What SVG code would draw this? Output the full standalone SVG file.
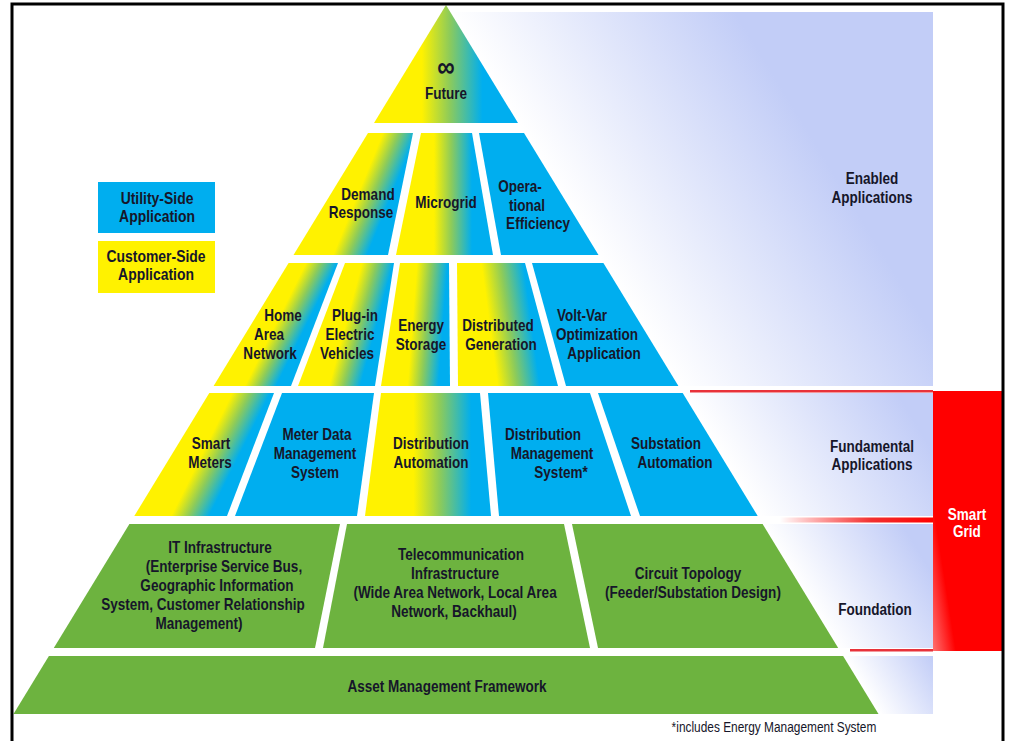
<svg xmlns="http://www.w3.org/2000/svg" xmlns:xlink="http://www.w3.org/1999/xlink" width="1011" height="741" viewBox="0 0 1011 741">
<style>
.t{font-family:'Liberation Sans',Arial,sans-serif;font-weight:bold;font-size:16.5px;fill:#16162a;text-anchor:middle;transform-box:fill-box;transform-origin:center;transform:scaleX(0.82)}
.w{fill:#ffffff}
.fn{font-family:'Liberation Sans',Arial,sans-serif;font-size:14.5px;fill:#16162a;text-anchor:middle;transform-box:fill-box;transform-origin:center;transform:scaleX(0.82)}
.blue{fill:#00AEEF}
.green{fill:#6DB33F}
.yel{fill:#FFF200}
</style>
<defs>
<linearGradient id="yb">
<stop offset="0" stop-color="#FFF200"/>
<stop offset="0.38" stop-color="#FFF200"/>
<stop offset="0.6" stop-color="#8DCB5A"/>
<stop offset="0.86" stop-color="#00AEEF"/>
<stop offset="1" stop-color="#00AEEF"/>
</linearGradient>
<linearGradient id="lav">
<stop offset="0" stop-color="#FFFFFF"/>
<stop offset="1" stop-color="#C2CDF7"/>
</linearGradient>
<linearGradient id="gFuture" href="#yb" xlink:href="#yb" gradientUnits="userSpaceOnUse" x1="374" y1="0" x2="500" y2="0"/>
<linearGradient id="gDemand" href="#yb" xlink:href="#yb" gradientUnits="userSpaceOnUse" x1="331" y1="194" x2="402" y2="194" gradientTransform="translate(0,194) skewX(-22.2) translate(0,-194)"/>
<linearGradient id="gMicro" href="#yb" xlink:href="#yb" gradientUnits="userSpaceOnUse" x1="404" y1="0" x2="483" y2="0"/>
<linearGradient id="gHome" href="#yb" xlink:href="#yb" gradientUnits="userSpaceOnUse" x1="251" y1="324" x2="316" y2="324" gradientTransform="translate(0,324) skewX(-26.4) translate(0,-324)"/>
<linearGradient id="gPlug" href="#yb" xlink:href="#yb" gradientUnits="userSpaceOnUse" x1="321" y1="324" x2="386" y2="324" gradientTransform="translate(0,324) skewX(-15) translate(0,-324)"/>
<linearGradient id="gEnergy" href="#yb" xlink:href="#yb" gradientUnits="userSpaceOnUse" x1="388" y1="324" x2="452" y2="324" gradientTransform="translate(0,324) skewX(-4.4) translate(0,-324)"/>
<linearGradient id="gDist" href="#yb" xlink:href="#yb" gradientUnits="userSpaceOnUse" x1="456" y1="324" x2="544" y2="324" gradientTransform="translate(0,324) skewX(7.6) translate(0,-324)"/>
<linearGradient id="gSmart" href="#yb" xlink:href="#yb" gradientUnits="userSpaceOnUse" x1="172" y1="454" x2="251" y2="454" gradientTransform="translate(0,454) skewX(-26.4) translate(0,-454)"/>
<linearGradient id="gDA" href="#yb" xlink:href="#yb" gradientUnits="userSpaceOnUse" x1="368" y1="0" x2="488" y2="0"/>
<linearGradient id="bandTop" href="#lav" xlink:href="#lav" gradientUnits="userSpaceOnUse" x1="565" y1="200" x2="850" y2="200" gradientTransform="translate(0,200) skewX(31.4) translate(0,-200)"/>
<linearGradient id="bandFund" href="#lav" xlink:href="#lav" gradientUnits="userSpaceOnUse" x1="722" y1="455" x2="935" y2="455" gradientTransform="translate(0,455) skewX(31.4) translate(0,-455)"/>
<linearGradient id="bandFound" href="#lav" xlink:href="#lav" gradientUnits="userSpaceOnUse" x1="800" y1="586" x2="940" y2="586" gradientTransform="translate(0,586) skewX(31.4) translate(0,-586)"/>
<linearGradient id="bandBot" href="#lav" xlink:href="#lav" gradientUnits="userSpaceOnUse" x1="862" y1="685" x2="950" y2="685" gradientTransform="translate(0,685) skewX(31.4) translate(0,-685)"/>
<linearGradient id="redFade" x1="0" y1="0" x2="1" y2="0">
<stop offset="0" stop-color="#FF0000" stop-opacity="0"/>
<stop offset="0.6" stop-color="#F01818" stop-opacity="0.9"/>
<stop offset="1" stop-color="#FF0000"/>
</linearGradient>
<linearGradient id="redBar" x1="0" y1="1" x2="0.7" y2="0.6">
<stop offset="0" stop-color="#FF7070"/>
<stop offset="0.35" stop-color="#FF0000"/>
<stop offset="1" stop-color="#FF0000"/>
</linearGradient>
</defs>
<rect x="0" y="0" width="1011" height="741" fill="#ffffff"/>

<g id="panel">
<rect x="446" y="12" width="487" height="374" fill="url(#bandTop)"/>
<rect x="680" y="393" width="253" height="123" fill="url(#bandFund)"/>
<rect x="760" y="524" width="173" height="124" fill="url(#bandFound)"/>
<rect x="840" y="656" width="93" height="58" fill="url(#bandBot)"/>
</g>

<g id="separators">
<rect x="690" y="390" width="243" height="2.5" fill="#E8323A"/>
<rect x="780" y="517.5" width="153" height="5" fill="url(#redFade)"/>
<rect x="850" y="649" width="83" height="2.5" fill="#E8323A"/>
</g>

<g id="smart-grid">
<rect x="933" y="391" width="71" height="260" fill="url(#redBar)"/>
<text class="t w" x="967" y="520">Smart</text>
<text class="t w" x="967" y="537">Grid</text>
</g>

<g id="label-enabled">
<text class="t" x="872" y="184">Enabled</text>
<text class="t" x="872" y="203">Applications</text>
</g>
<g id="label-fundamental">
<text class="t" x="872" y="452">Fundamental</text>
<text class="t" x="872" y="470">Applications</text>
</g>
<g id="label-foundation">
<text class="t" x="875" y="615">Foundation</text>
</g>

<g id="legend-utility">
<rect x="98" y="182" width="117" height="51" class="blue"/>
<text class="t" x="157" y="204" style="font-size:17px">Utility-Side</text>
<text class="t" x="157" y="222" style="font-size:17px">Application</text>
</g>
<g id="legend-customer">
<rect x="98" y="241" width="117" height="52" class="yel"/>
<text class="t" x="156" y="262" style="font-size:17px">Customer-Side</text>
<text class="t" x="156" y="280" style="font-size:17px">Application</text>
</g>

<g id="future">
<polygon points="446,5 518,123 374,123" fill="url(#gFuture)"/>
<text class="t" x="446" y="77" style="font-size:30px">∞</text>
<text class="t" x="446" y="99">Future</text>
</g>

<g id="demand-response">
<polygon points="368,133 413,133 388,255 293.5,255" fill="url(#gDemand)"/>
<text class="t" x="368" y="200">Demand</text>
<text class="t" x="361" y="218">Response</text>
</g>
<g id="microgrid">
<polygon points="421,133 472,133 493,255 396,255" fill="url(#gMicro)"/>
<text class="t" x="446" y="208">Microgrid</text>
</g>
<g id="operational-efficiency">
<polygon points="479,133 524,133 598.5,255 501,255" class="blue"/>
<text class="t" x="520" y="192">Opera-</text>
<text class="t" x="527" y="211">tional</text>
<text class="t" x="538" y="229">Efficiency</text>
</g>

<g id="home-area-network">
<polygon points="288.6,263 338,263 291,386 213.6,386" fill="url(#gHome)"/>
<text class="t" x="283" y="321">Home</text>
<text class="t" x="269" y="340">Area</text>
<text class="t" x="270" y="359">Network</text>
</g>
<g id="plug-in-electric-vehicles">
<polygon points="345,263 394,263 375,386 298,386" fill="url(#gPlug)"/>
<text class="t" x="355" y="321">Plug-in</text>
<text class="t" x="350" y="340">Electric</text>
<text class="t" x="347" y="359">Vehicles</text>
</g>
<g id="energy-storage">
<polygon points="400,263 449,263 450,386 381,386" fill="url(#gEnergy)"/>
<text class="t" x="421" y="331">Energy</text>
<text class="t" x="421" y="350">Storage</text>
</g>
<g id="distributed-generation">
<polygon points="457,263 525,263 558,386 458,386" fill="url(#gDist)"/>
<text class="t" x="498" y="331">Distributed</text>
<text class="t" x="501" y="350">Generation</text>
</g>
<g id="volt-var">
<polygon points="532,263 603.4,263 678.4,386 566,386" class="blue"/>
<text class="t" x="582" y="321">Volt-Var</text>
<text class="t" x="597" y="340">Optimization</text>
<text class="t" x="604" y="359">Application</text>
</g>

<g id="smart-meters">
<polygon points="209.3,393 274,393 227,516 134.3,516" fill="url(#gSmart)"/>
<text class="t" x="211" y="449">Smart</text>
<text class="t" x="210" y="468">Meters</text>
</g>
<g id="meter-data-management">
<polygon points="282,393 374,393 357,516 235,516" class="blue"/>
<text class="t" x="317" y="440">Meter Data</text>
<text class="t" x="315" y="459">Management</text>
<text class="t" x="315" y="478">System</text>
</g>
<g id="distribution-automation">
<polygon points="381,393 480,393 491,516 365,516" fill="url(#gDA)"/>
<text class="t" x="431" y="449">Distribution</text>
<text class="t" x="431" y="468">Automation</text>
</g>
<g id="distribution-management">
<polygon points="488,393 590,393 631,516 499,516" class="blue"/>
<text class="t" x="543" y="440">Distribution</text>
<text class="t" x="552" y="459">Management</text>
<text class="t" x="561" y="478">System*</text>
</g>
<g id="substation-automation">
<polygon points="598,393 682.7,393 757.7,516 640,516" class="blue"/>
<text class="t" x="666" y="449">Substation</text>
<text class="t" x="675" y="468">Automation</text>
</g>

<g id="it-infrastructure">
<polygon points="129.4,524 340,524 315,648 53.8,648" class="green"/>
<text class="t" x="220" y="553">IT Infrastructure</text>
<text class="t" x="224" y="572">(Enterprise Service Bus,</text>
<text class="t" x="217" y="591">Geographic Information</text>
<text class="t" x="203" y="610">System, Customer Relationship</text>
<text class="t" x="199" y="629">Management)</text>
</g>
<g id="telecommunication-infrastructure">
<polygon points="347,524 564,524 590,648 323,648" class="green"/>
<text class="t" x="461" y="560">Telecommunication</text>
<text class="t" x="455" y="579">Infrastructure</text>
<text class="t" x="455" y="598">(Wide Area Network, Local Area</text>
<text class="t" x="454" y="617">Network, Backhaul)</text>
</g>
<g id="circuit-topology">
<polygon points="572,524 762.6,524 838.2,648 598,648" class="green"/>
<text class="t" x="688" y="579">Circuit Topology</text>
<text class="t" x="693" y="598">(Feeder/Substation Design)</text>
</g>

<g id="asset-management">
<polygon points="48.9,656 843.1,656 878.5,714 13.5,714" class="green"/>
<text class="t" x="447" y="692">Asset Management Framework</text>
</g>

<g id="footnote">
<text class="fn" x="774" y="732">*includes Energy Management System</text>
</g>

<rect id="frame" x="12" y="4" width="991" height="760" fill="none" stroke="#000" stroke-width="3"/>
</svg>
